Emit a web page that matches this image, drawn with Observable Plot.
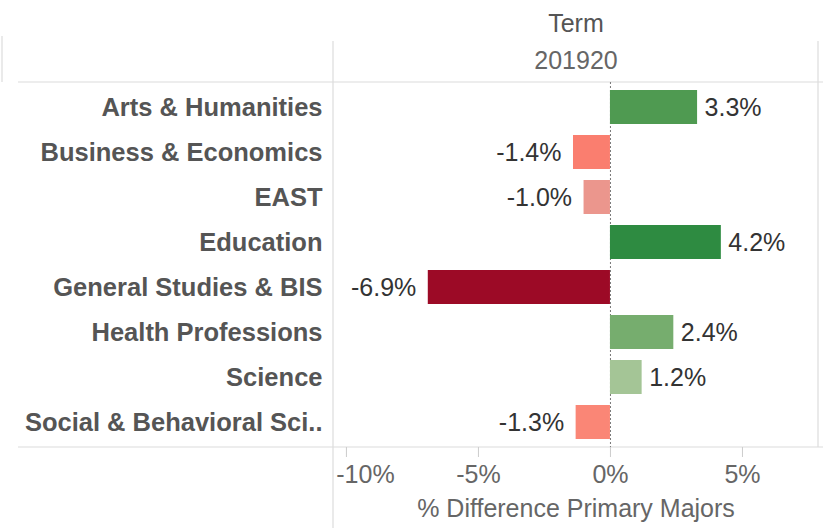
<!DOCTYPE html>
<html>
<head>
<meta charset="utf-8">
<script src="https://cdn.jsdelivr.net/npm/d3@7"></script>
<script src="https://cdn.jsdelivr.net/npm/@observablehq/plot@0.6"></script>
<style>
  html, body { margin: 0; padding: 0; background: #fff; }
  #chart svg { display: block; }
</style>
</head>
<body>
<div id="chart"></div>
<script>
// ---- data ----
const categories = [
  "Arts & Humanities",
  "Business & Economics",
  "EAST",
  "Education",
  "General Studies & BIS",
  "Health Professions",
  "Science",
  "Social & Behavioral Sci.."
];
const values = [3.3, -1.4, -1.0, 4.2, -6.9, 2.4, 1.2, -1.3];
const barColors = ["#4f9a51", "#fa7e6f", "#eb968d", "#2e8b41", "#9c0a26", "#76ad6e", "#a4c596", "#fa8676"];
const xTicks = [-10, -5, 0, 5];
const headerTitle = "Term";
const headerValue = "201920";
const axisTitle = "% Difference Primary Majors";

const data = categories.map((c, i) => ({name: c, value: values[i]}));
const fmt = d => `${d.value.toFixed(1)}%`;

const font = "'Liberation Sans', Arial, sans-serif";
const FS = 25;

function decor(index, scales, vals, dims) {
  const {width, height, marginLeft, marginTop, marginRight, marginBottom} = dims;
  const x0 = marginLeft, x1 = width - marginRight, y0 = marginTop, y1 = height - marginBottom;
  const g = d3.create("svg:g").attr("stroke", "#dcdcdc").attr("stroke-width", 1.2).attr("fill", "none");
  const line = (ax, ay, bx, by) => g.append("line").attr("x1", ax).attr("y1", ay).attr("x2", bx).attr("y2", by);
  line(18, y0, width, y0);          // header separator
  line(18, y1, width, y1);          // bottom separator
  line(x0, 41, x0, height);         // row-header divider
  line(x1, 41, x1, y1);             // right edge
  line(2, 36, 2, y0);               // left edge in header
  return g.node();
}

const chart = Plot.plot({
  width: 823,
  height: 528,
  marginTop: 82,
  marginBottom: 81,
  marginLeft: 333,
  marginRight: 5,
  style: {fontFamily: font, fontSize: `${FS}px`, background: "#fff"},
  x: {domain: [-10.49, 7.88], axis: null},
  y: {domain: categories, paddingInner: 0.25, paddingOuter: 0.125, axis: null},
  color: {domain: categories, range: barColors},
  marks: [
    decor,
    Plot.ruleX([0], {stroke: "#777", strokeDasharray: "2,2", strokeWidth: 1}),
    Plot.barX(data, {x: "value", y: "name", fill: "name"}),
    Plot.text(data.filter(d => d.value >= 0), {
      x: "value", y: "name", text: fmt, textAnchor: "start", dx: 7,
      fill: "#333", fontSize: FS
    }),
    Plot.text(data.filter(d => d.value < 0), {
      x: "value", y: "name", text: fmt, textAnchor: "end", dx: -12,
      fill: "#333", fontSize: FS
    }),
    Plot.axisY({tickSize: 0, tickPadding: 11, fontWeight: "bold", fill: "#555", fontSize: 25.5, label: null}),
    Plot.axisX({ticks: xTicks, tickFormat: null, text: null, tickSize: 10, stroke: "#ccc", label: null}),
    Plot.text(xTicks.filter(t => t !== xTicks[0]), {
      x: d => d, frameAnchor: "bottom", lineAnchor: "middle", dy: 27,
      text: d => `${d}%`, fill: "#666", fontSize: FS
    }),
    Plot.text(xTicks.slice(0, 1), {
      x: d => d, frameAnchor: "bottom", lineAnchor: "middle", dy: 27, dx: 19,
      text: d => `${d}%`, fill: "#666", fontSize: FS
    }),
    Plot.text([axisTitle], {frameAnchor: "bottom", lineAnchor: "middle", dy: 61, fill: "#666", fontSize: FS}),
    Plot.text([headerTitle], {frameAnchor: "top", lineAnchor: "middle", dy: -59, fill: "#555", fontSize: FS}),
    Plot.text([headerValue], {frameAnchor: "top", lineAnchor: "middle", dy: -22, fill: "#666", fontSize: FS})
  ]
});
document.getElementById("chart").appendChild(chart);
</script>
</body>
</html>
